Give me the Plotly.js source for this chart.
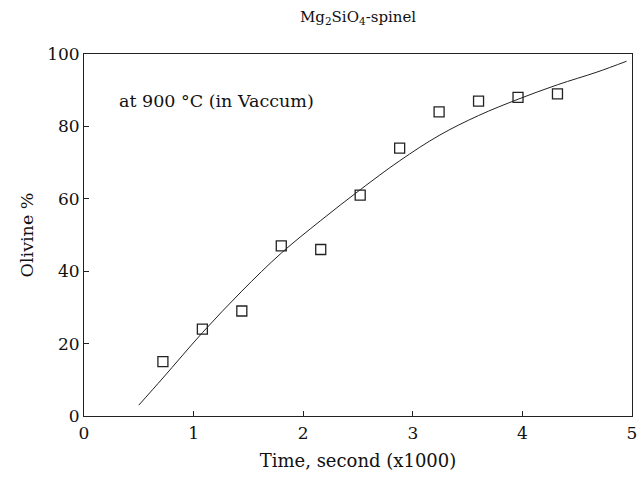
<!DOCTYPE html>
<html>
<head>
<meta charset="utf-8">
<script src="https://cdn.plot.ly/plotly-3.0.1.min.js"></script>
<style>html,body{margin:0;padding:0;background:#fff;}#chart{width:644px;height:483px;}</style>
</head>
<body>
<div id="chart"></div>
<script>
// Measured data (time in x1000 s, olivine %)
const timeData = [0.72, 1.08, 1.44, 1.80, 2.16, 2.52, 2.88, 3.24, 3.60, 3.96, 4.32];
const olivineData = [15, 24, 29, 47, 46, 61, 74, 84, 87, 88, 89];
// Fitted curve
const curveTime = [0.5, 0.72, 1.08, 1.44, 1.8, 2.16, 2.52, 2.88, 3.24, 3.6, 3.96, 4.32, 4.68, 4.95];
const curveOlivine = [3, 10.5, 23, 34.5, 45, 54, 62.5, 70.5, 77.5, 83, 87.5, 91.5, 95, 98];
const xTicks = [0, 1, 2, 3, 4, 5];
const yTicks = [0, 20, 40, 60, 80, 100];

const fontFam = '"DejaVu Serif", "Liberation Serif", serif';

const traces = [
  {
    x: curveTime, y: curveOlivine, type: 'scatter', mode: 'lines',
    line: {color: '#222', width: 1, shape: 'spline', smoothing: 1},
    hoverinfo: 'skip', showlegend: false
  },
  {
    x: timeData, y: olivineData, type: 'scatter', mode: 'markers',
    marker: {symbol: 'square-open', size: 10, color: '#222', line: {width: 1.3, color: '#222'}},
    showlegend: false
  }
];

const layout = {
  width: 644, height: 483,
  margin: {l: 84, r: 12, t: 54, b: 67},
  paper_bgcolor: '#fff', plot_bgcolor: '#fff',
  font: {family: fontFam, color: '#111', size: 16},
  title: {text: 'Mg<sub>2</sub>SiO<sub>4</sub>-spinel', font: {family: fontFam, size: 15, color: '#111'},
          x: 0.556, xanchor: 'center', y: 0.965, yanchor: 'middle'},
  xaxis: {
    range: [0, 5], tickvals: xTicks, ticktext: xTicks.map(String),
    showgrid: false, zeroline: false, showline: true, mirror: true,
    linecolor: '#222', linewidth: 1, ticks: 'inside', ticklen: 5, tickcolor: '#222',
    tickfont: {size: 17}, ticklabelstandoff: 2,
    title: {text: 'Time, second (x1000)', font: {size: 18}, standoff: 11}
  },
  yaxis: {
    range: [0, 100], tickvals: yTicks, ticktext: yTicks.map(String),
    showgrid: false, zeroline: false, showline: true, mirror: true,
    linecolor: '#222', linewidth: 1, ticks: 'inside', ticklen: 5, tickcolor: '#222',
    tickfont: {size: 17},
    title: {text: 'Olivine %', font: {size: 17.5}, standoff: 9}
  },
  annotations: [
    {x: 0.3, y: 87, xref: 'x', yref: 'y', xanchor: 'left', yanchor: 'middle',
     text: 'at 900 °C (in Vaccum)', showarrow: false, font: {size: 17.5, color: '#111'}}
  ]
};

Plotly.newPlot('chart', traces, layout, {displayModeBar: false, staticPlot: true});
</script>
</body>
</html>
